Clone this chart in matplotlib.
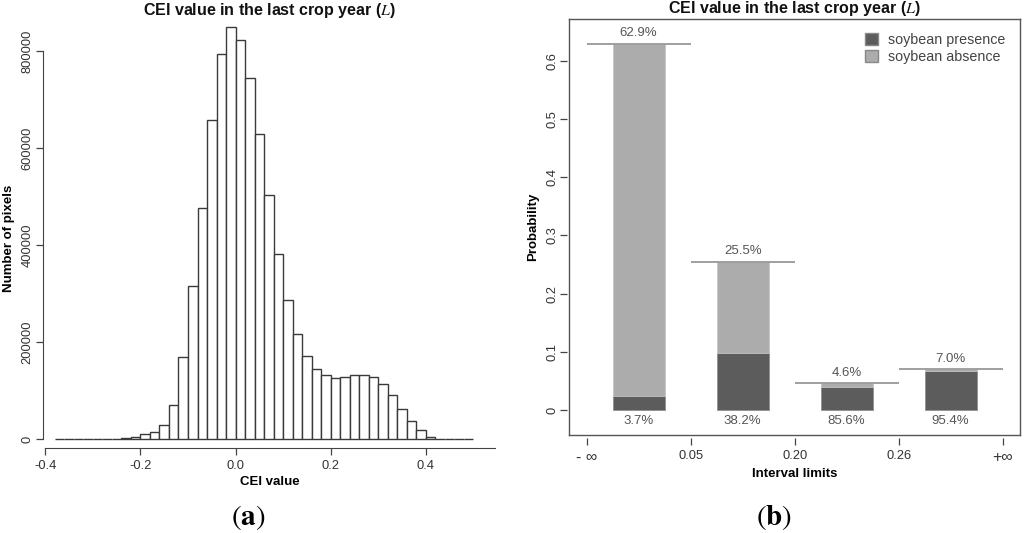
import numpy as np
import matplotlib
matplotlib.use("Agg")
import matplotlib.pyplot as plt
from matplotlib.patches import Patch

plt.rcParams["font.family"] = ["Liberation Sans", "DejaVu Sans"]
plt.rcParams["mathtext.fontset"] = "stix"

# ---- panel (a): histogram of CEI values ----
bin_start = -0.38
bin_width = 0.02
counts = [0, 0, 0, 0, 0,
          800, 1500, 3000, 5500, 10000, 16000, 29000, 70000, 170000, 316000,
          477000, 658000, 794000, 850000, 824000, 744000, 629000, 503000, 382000,
          287000, 218000, 172000, 146000, 133000, 127000, 128500, 132000, 133500,
          128000, 115000, 91000, 63000, 37500, 18500, 5000,
          0, 0, 0, 0]
hist_xticks = [-0.4, -0.2, 0.0, 0.2, 0.4]
hist_yticks = [0, 200000, 400000, 600000, 800000]

# ---- panel (b): probability per interval ----
interval_labels = ["- \u221e", "0.05", "0.20", "0.26", "+\u221e"]
total_prob = [0.629, 0.255, 0.046, 0.070]
presence_share = [0.037, 0.382, 0.856, 0.954]
top_text = ["62.9%", "25.5%", "4.6%", "7.0%"]
bottom_text = ["3.7%", "38.2%", "85.6%", "95.4%"]
prob_yticks = [0, 0.1, 0.2, 0.3, 0.4, 0.5, 0.6]

title = "CEI value in the last crop year ($L$)"
txt_col = "#333333"
W, H = 1024, 533

fig = plt.figure(figsize=(10.24, 5.33), dpi=100)

# left panel
ax1 = fig.add_axes([43 / W, 1 - 447.7 / H, (497 - 43) / W, (447.7 - 10.6) / H])
lefts = bin_start + bin_width * np.arange(len(counts))
ax1.bar(lefts, counts, width=bin_width, align="edge", facecolor="white",
        edgecolor="#3a3a3a", linewidth=1.0)
ax1.set_xlim(-0.405, 0.55)
ax1.set_ylim(-17300, 884000)
for s in ["top", "right"]:
    ax1.spines[s].set_visible(False)
ax1.spines["left"].set_bounds(0, 800000)
ax1.spines["bottom"].set_bounds(-0.4, 0.546)
for s in ["left", "bottom"]:
    ax1.spines[s].set_color("#444444")
ax1.set_xticks(hist_xticks)
ax1.set_xticklabels(["-0.4", "-0.2", "0.0", "0.2", "0.4"])
ax1.set_yticks(hist_yticks)
ax1.set_yticklabels([str(v) for v in hist_yticks], rotation=90, va="center")
ax1.tick_params(colors="#444444", labelcolor=txt_col, labelsize=9.3, length=5, width=0.9)
ax1.tick_params(axis="y", pad=2)
ax1.tick_params(axis="x", pad=4)
ax1.set_xlabel("CEI value", fontsize=9.5, fontweight="bold", labelpad=3)
fig.text(9 / W, 1 - 238 / H, "Number of pixels", rotation=90, ha="center", va="center",
         fontsize=9.5, fontweight="bold")
fig.text(269 / W, 1 - 10 / H, title, ha="center", va="center",
         fontsize=11.5, fontweight="bold", color="#111111")
fig.text(248 / W, 1 - 517 / H, r"$(\mathbf{a})$", ha="center", va="center",
         fontsize=21, color="black")

# right panel
ax2 = fig.add_axes([569.3 / W, 1 - 435 / H, (1020 - 569.3) / W, (435 - 19) / H])
centers = np.arange(len(total_prob)) + 0.5
presence = [t * p for t, p in zip(total_prob, presence_share)]
absence = [t - p for t, p in zip(total_prob, presence)]
dark = "#5c5c5c"
light = "#acacac"
ax2.bar(centers, presence, width=0.5, color=dark, edgecolor="#8a8a8a", linewidth=0.5)
ax2.bar(centers, absence, width=0.5, bottom=presence, color=light, edgecolor="#c4c4c4",
        linewidth=0.5)
for i, c in enumerate(centers):
    ax2.hlines(total_prob[i], c - 0.5, c + 0.5, color="#999999", linewidth=1.3)
    ax2.text(c, total_prob[i] + 0.008, top_text[i], ha="center", va="bottom",
             fontsize=9.5, color="#555555")
    ax2.text(c, -0.008, bottom_text[i], ha="center", va="top", fontsize=9.5, color="#555555")
ax2.set_xlim(-0.167, 4.167)
ax2.set_ylim(-0.043, 0.672)
for s in ax2.spines.values():
    s.set_color("#555555")
    s.set_linewidth(1.0)
ax2.tick_params(bottom=False, left=False, labelbottom=False, labelleft=False)

secx = ax2.secondary_xaxis(-0.007)
secx.set_xticks(np.arange(len(interval_labels)))
secx.set_xticklabels(interval_labels)
secx.spines["bottom"].set_visible(False)
secx.tick_params(colors="#444444", labelcolor=txt_col, labelsize=9.3, length=5, width=0.9, pad=4)
for lab in secx.get_xticklabels():
    if "\u221e" in lab.get_text():
        lab.set_fontsize(11.5)
secx.set_xlabel("Interval limits", fontsize=9.5, fontweight="bold", labelpad=2)

secy = ax2.secondary_yaxis(-0.006)
secy.set_yticks(prob_yticks)
secy.set_yticklabels(["0", "0.1", "0.2", "0.3", "0.4", "0.5", "0.6"], rotation=90, va="center")
secy.spines["left"].set_visible(False)
secy.tick_params(colors="#444444", labelcolor=txt_col, labelsize=9.3, length=5, width=0.9, pad=1)
fig.text(533 / W, 1 - 227 / H, "Probability", rotation=90, ha="center", va="center",
         fontsize=9.5, fontweight="bold")

handles = [Patch(facecolor=dark, edgecolor="#888888", label="soybean presence"),
           Patch(facecolor=light, edgecolor="#888888", label="soybean absence")]
leg = ax2.legend(handles=handles, loc="upper right", frameon=False, fontsize=10.3,
                 handlelength=0.95, handleheight=0.9, handletextpad=0.7,
                 labelspacing=0.2, borderaxespad=0.6)
for t in leg.get_texts():
    t.set_color("#444444")

fig.text(794 / W, 1 - 8 / H, title, ha="center", va="center",
         fontsize=11.5, fontweight="bold", color="#111111")
fig.text(774 / W, 1 - 517 / H, r"$(\mathbf{b})$", ha="center", va="center",
         fontsize=21, color="black")

fig.savefig("out.png", dpi=100)
